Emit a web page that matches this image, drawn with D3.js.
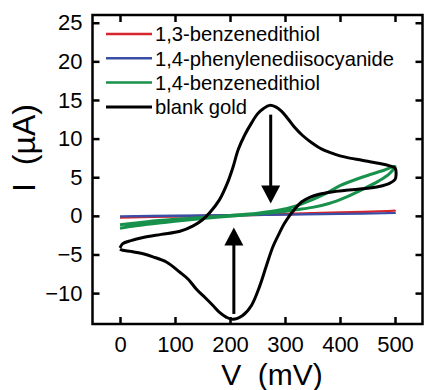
<!DOCTYPE html>
<html>
<head>
<meta charset="utf-8">
<script src="https://cdn.jsdelivr.net/npm/d3@7"></script>
<style>
  body { margin: 0; background: #fff; }
  text { font-family: "Liberation Sans", Arial, Helvetica, sans-serif; fill: #000; }
</style>
</head>
<body>
<div id="chart"></div>
<script>
// Data (V in mV, I in uA)
const vTicks = [0, 100, 200, 300, 400, 500];
const iTicks = [-10, -5, 0, 5, 10, 15, 20, 25];

const seriesNames = ["1,3-benzenedithiol", "1,4-phenylenediisocyanide", "1,4-benzenedithiol", "blank gold"];
const seriesColors = ["#d7262b", "#3b4ea6", "#17914b", "#000000"];

// 1,3-benzenedithiol: forward then reverse
const bdt13 = [[0, -0.25], [100, -0.07], [200, 0.1], [300, 0.28], [400, 0.46], [500, 0.65],
  [400, 0.38], [300, 0.18], [200, 0.0], [100, -0.12], [0, -0.22]];
// 1,4-phenylenediisocyanide
const pdi = [[0, -0.05], [100, 0.03], [200, 0.1], [300, 0.18], [400, 0.27], [500, 0.36],
  [400, 0.24], [300, 0.14], [200, 0.06], [100, -0.02], [0, -0.08]];
// 1,4-benzenedithiol
const bdt14 = [[0, -1.6], [50, -1.1], [100, -0.7], [150, -0.35], [200, -0.05], [250, 0.25],
  [290, 0.5], [320, 0.8], [350, 1.1], [380, 1.6], [410, 2.4], [440, 3.4], [470, 4.5], [489, 5.4], [500, 6.4],
  [480, 5.9], [440, 5.0], [400, 3.9], [380, 3.1], [350, 2.1], [320, 1.3], [290, 0.75], [250, 0.35],
  [200, 0.05], [150, -0.2], [100, -0.45], [50, -0.75], [0, -1.15]];
// blank gold: forward scan 0 -> 500 mV
const goldFwd = [[0, -4.15], [5, -3.6], [20, -3.2], [42, -2.8], [75, -2.4], [109, -2.0], [133, -1.3],
  [150, -0.5], [163, 0.4], [181, 2.1], [195, 4.2], [205, 6.2], [215, 8.6], [227, 10.5], [239, 12.0],
  [250, 13.2], [261, 13.9], [272, 14.3], [283, 14.1], [293, 13.6], [305, 12.6], [317, 11.5], [332, 10.4],
  [348, 9.5], [368, 8.6], [390, 8.0], [410, 7.6], [440, 7.2], [470, 6.8], [489, 6.5], [500, 6.2]];
// blank gold: reverse scan 500 -> 0 mV
const goldRev = [[502, 5.4], [500, 4.7], [490, 4.2], [471, 3.8], [440, 3.5], [411, 3.3], [385, 3.1],
  [362, 2.8], [345, 2.4], [330, 1.8], [318, 0.9], [308, 0.0], [298, -1.1], [290, -2.2], [278, -4.0],
  [266, -6.5], [254, -9.1], [239, -11.6], [223, -12.9], [205, -13.4], [193, -13.1], [181, -12.5],
  [169, -11.6], [155, -10.6], [139, -9.5], [124, -8.2], [109, -7.3], [85, -6.0], [60, -5.3], [42, -4.9],
  [20, -4.6], [5, -4.45], [0, -4.3]];

// arrows: x position (mV), start and end current (uA)
const arrowV = [274, 207];
const arrowFrom = [13.1, -12.7];
const arrowTo = [1.6, -1.5];

// Set the dimensions
const width = 424, height = 390;
const svg = d3.select("#chart")
  .append("svg")
  .attr("width", width)
  .attr("height", height);

const x = d3.scaleLinear().domain([-50, 550]).range([92.5, 422.5]);
const y = d3.scaleLinear().domain([-14, 26]).range([324, 15]);

// Axes with inward ticks
const tickStyle = g => {
  g.select(".domain").remove();
  g.selectAll(".tick line").attr("stroke", "#000").attr("stroke-width", 2.5);
  g.selectAll(".tick text").style("font-size", "22px").attr("fill", "#000");
};

svg.append("g")
  .attr("transform", `translate(0, ${y.range()[0]})`)
  .call(d3.axisBottom(x).tickValues(vTicks).tickSizeInner(-7).tickSizeOuter(0).tickPadding(12))
  .call(tickStyle);
svg.append("g")
  .attr("transform", `translate(0, ${y.range()[1]})`)
  .call(d3.axisTop(x).tickValues(vTicks).tickSizeInner(-7).tickSizeOuter(0).tickFormat(""))
  .call(tickStyle);
svg.append("g")
  .attr("transform", `translate(${x.range()[0]}, 0)`)
  .call(d3.axisLeft(y).tickValues(iTicks).tickSizeInner(-7).tickSizeOuter(0).tickPadding(10))
  .call(tickStyle);
svg.append("g")
  .attr("transform", `translate(${x.range()[1]}, 0)`)
  .call(d3.axisRight(y).tickValues(iTicks).tickSizeInner(-7).tickSizeOuter(0).tickFormat(""))
  .call(tickStyle);

// frame
svg.append("rect")
  .attr("x", x.range()[0])
  .attr("y", y.range()[1])
  .attr("width", x.range()[1] - x.range()[0])
  .attr("height", y.range()[0] - y.range()[1])
  .attr("fill", "none")
  .attr("stroke", "#000")
  .attr("stroke-width", 2.5);

// axis titles
svg.append("text")
  .attr("x", 272)
  .attr("y", 385)
  .attr("text-anchor", "middle")
  .style("font-size", "30px")
  .style("white-space", "pre")
  .text("V  (mV)");
svg.append("text")
  .attr("transform", "translate(35, 148) rotate(-90)")
  .attr("text-anchor", "middle")
  .style("font-size", "32px")
  .style("white-space", "pre")
  .text("I  (\u00b5A)");

// curves
const line = d3.line()
  .x(d => x(d[0]))
  .y(d => y(d[1]))
  .curve(d3.curveCatmullRom.alpha(0.5));

const curves = [bdt13, pdi, bdt14, goldFwd.concat(goldRev)];
const widths = [2, 2, 3, 3];
svg.selectAll(".cv")
  .data(curves)
  .enter().append("path")
  .attr("class", "cv")
  .attr("d", line)
  .attr("fill", "none")
  .attr("stroke", (d, i) => seriesColors[i])
  .attr("stroke-width", (d, i) => widths[i])
  .attr("stroke-linejoin", "round");

// arrows
arrowV.forEach((v, i) => {
  const x0 = x(v), y0 = y(arrowFrom[i]), y1 = y(arrowTo[i]);
  const dir = y1 > y0 ? 1 : -1;
  const headLen = 18, headHalf = 9.5;
  svg.append("line")
    .attr("x1", x0).attr("x2", x0)
    .attr("y1", y0).attr("y2", y1 - dir * headLen + dir)
    .attr("stroke", "#000")
    .attr("stroke-width", 3);
  svg.append("path")
    .attr("d", `M${x0},${y1} L${x0 - headHalf},${y1 - dir * headLen} L${x0 + headHalf},${y1 - dir * headLen} Z`)
    .attr("fill", "#000");
});

// legend
const legend = svg.selectAll(".legend")
  .data(seriesNames)
  .enter().append("g")
  .attr("class", "legend")
  .attr("transform", (d, i) => `translate(0, ${34 + i * 24.3})`);
legend.append("line")
  .attr("x1", 106).attr("x2", 152)
  .attr("stroke", (d, i) => seriesColors[i])
  .attr("stroke-width", (d, i) => i === 3 ? 3 : 2.5);
legend.append("text")
  .attr("x", 155)
  .attr("dy", "0.36em")
  .style("font-size", "20.2px")
  .text(d => d);
</script>
</body>
</html>
